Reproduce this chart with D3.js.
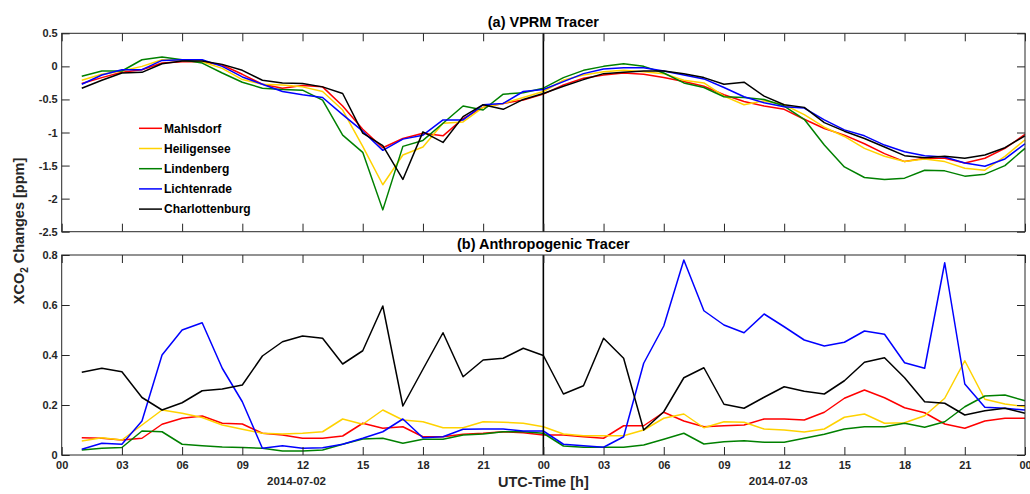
<!DOCTYPE html>
<html>
<head>
  <meta charset="UTF-8">
  <title>XCO2 Changes</title>
  <style>
  body { margin:0; background:#fff; }
  svg text { font-family:"Liberation Sans", Arial, sans-serif; font-weight:bold; }
  </style>
</head>
<body>
  <div id="chart"></div>
  <script src="https://d3js.org/d3.v7.min.js" charset="utf-8"></script>
  <script type="text/javascript">
    // hours since 2014-07-02 00 UTC
    var hours = [1,2,3,4,5,6,7,8,9,10,11,12,13,14,15,16,17,18,19,20,21,22,23,24,
                 25,26,27,28,29,30,31,32,33,34,35,36,37,38,39,40,41,42,43,44,45,46,47,48];
    var xTicks = [0,3,6,9,12,15,18,21,24,27,30,33,36,39,42,45,48];
    var xTickLabels = ["00","03","06","09","12","15","18","21","00","03","06","09","12","15","18","21","00"];
    var dateLabels = ["2014-07-02","2014-07-03"];
    var dateHours = [12,36];

    var stations = ["Mahlsdorf","Heiligensee","Lindenberg","Lichtenrade","Charlottenburg"];
    var colors = ["#ff0000","#ffd200","#008000","#0000ff","#000000"];

    // (a) VPRM tracer
    var vprmTicks = [0.5,0,-0.5,-1,-1.5,-2,-2.5];
    var vprmMahlsdorf = [-0.26,-0.17,-0.09,-0.05,0.05,0.07,0.07,0.02,-0.12,-0.27,-0.33,-0.29,-0.31,-0.6,-0.95,-1.23,-1.09,-1.01,-1.05,-0.79,-0.62,-0.56,-0.51,-0.42,
                         -0.28,-0.18,-0.13,-0.1,-0.12,-0.17,-0.23,-0.3,-0.43,-0.53,-0.6,-0.65,-0.8,-0.94,-1.04,-1.17,-1.32,-1.44,-1.39,-1.39,-1.46,-1.39,-1.24,-1.03];
    var vprmHeiligensee = [-0.21,-0.12,-0.07,0,0.1,0.09,0.07,-0.03,-0.2,-0.27,-0.28,-0.31,-0.38,-0.66,-1.21,-1.79,-1.34,-1.22,-0.86,-0.84,-0.62,-0.56,-0.47,-0.38,
                           -0.21,-0.13,-0.08,-0.06,-0.08,-0.11,-0.21,-0.25,-0.45,-0.58,-0.52,-0.58,-0.73,-0.92,-1.06,-1.24,-1.36,-1.44,-1.4,-1.44,-1.54,-1.57,-1.36,-1.11];
    var vprmLindenberg = [-0.15,-0.07,-0.07,0.1,0.14,0.1,0.05,-0.1,-0.24,-0.33,-0.35,-0.36,-0.51,-1.04,-1.3,-2.17,-1.21,-1.12,-0.86,-0.6,-0.66,-0.42,-0.4,-0.33,
                          -0.17,-0.06,0,0.04,0,-0.1,-0.25,-0.32,-0.46,-0.47,-0.5,-0.6,-0.8,-1.19,-1.52,-1.68,-1.71,-1.69,-1.57,-1.58,-1.66,-1.63,-1.5,-1.24];
    var vprmLichtenrade = [-0.27,-0.13,-0.05,-0.05,0.09,0.1,0.1,0,-0.16,-0.27,-0.38,-0.43,-0.47,-0.73,-0.98,-1.27,-1.1,-1.04,-0.81,-0.81,-0.58,-0.56,-0.38,-0.35,
                           -0.23,-0.11,-0.04,-0.02,-0.02,-0.07,-0.13,-0.19,-0.32,-0.46,-0.55,-0.61,-0.63,-0.81,-0.96,-1.05,-1.19,-1.29,-1.35,-1.37,-1.46,-1.51,-1.4,-1.17];
    var vprmCharlottenburg = [-0.33,-0.21,-0.1,-0.09,0.04,0.08,0.08,0.03,-0.06,-0.21,-0.25,-0.26,-0.31,-0.41,-1.01,-1.2,-1.71,-0.99,-1.15,-0.76,-0.58,-0.65,-0.5,-0.41,
                              -0.3,-0.2,-0.11,-0.09,-0.07,-0.07,-0.11,-0.17,-0.27,-0.24,-0.45,-0.58,-0.62,-0.85,-0.98,-1.09,-1.22,-1.35,-1.38,-1.36,-1.39,-1.34,-1.23,-1.05];

    // (b) anthropogenic tracer
    var anthTicks = [0,0.2,0.4,0.6,0.8];
    var anthMahlsdorf = [0.069,0.067,0.06,0.067,0.123,0.147,0.156,0.127,0.124,0.087,0.08,0.067,0.067,0.076,0.127,0.107,0.113,0.073,0.073,0.083,0.087,0.093,0.089,0.08,
                         0.08,0.073,0.067,0.117,0.117,0.171,0.136,0.113,0.117,0.12,0.144,0.144,0.14,0.171,0.227,0.26,0.229,0.189,0.169,0.124,0.107,0.136,0.147,0.147];
    var anthHeiligensee = [0.056,0.069,0.06,0.12,0.18,0.167,0.15,0.12,0.103,0.087,0.084,0.087,0.093,0.144,0.123,0.18,0.14,0.133,0.109,0.109,0.133,0.131,0.127,0.113,
                           0.084,0.077,0.077,0.077,0.1,0.147,0.164,0.109,0.133,0.131,0.104,0.1,0.092,0.104,0.151,0.164,0.127,0.129,0.157,0.227,0.377,0.223,0.204,0.193];
    var anthLindenberg = [0.02,0.027,0.03,0.096,0.093,0.043,0.037,0.032,0.03,0.027,0.016,0.016,0.02,0.043,0.064,0.067,0.047,0.063,0.063,0.08,0.084,0.093,0.093,0.087,
                          0.036,0.031,0.031,0.031,0.04,0.063,0.087,0.044,0.053,0.057,0.051,0.051,0.067,0.083,0.104,0.113,0.113,0.127,0.111,0.133,0.193,0.236,0.24,0.217];
    var anthLichtenrade = [0.023,0.047,0.043,0.136,0.4,0.5,0.529,0.347,0.213,0.027,0.037,0.027,0.029,0.043,0.067,0.093,0.144,0.069,0.073,0.103,0.104,0.104,0.096,0.096,
                           0.043,0.037,0.031,0.073,0.367,0.516,0.78,0.577,0.52,0.489,0.564,0.513,0.46,0.436,0.451,0.496,0.483,0.369,0.347,0.769,0.284,0.191,0.187,0.18];
    var anthCharlottenburg = [0.331,0.347,0.333,0.23,0.18,0.209,0.257,0.264,0.28,0.396,0.453,0.476,0.467,0.364,0.417,0.596,0.196,0.343,0.489,0.313,0.38,0.387,0.427,0.398,
                              0.244,0.277,0.467,0.387,0.1,0.173,0.309,0.349,0.203,0.187,0.231,0.273,0.255,0.244,0.297,0.371,0.389,0.309,0.213,0.207,0.16,0.177,0.187,0.167];

    var vprmSeries = [vprmMahlsdorf, vprmHeiligensee, vprmLindenberg, vprmLichtenrade, vprmCharlottenburg];
    var anthSeries = [anthMahlsdorf, anthHeiligensee, anthLindenberg, anthLichtenrade, anthCharlottenburg];

    var axisColor = "#262626";

    var svg = d3.select("#chart")
      .append("svg")
      .attr("width", 1030)
      .attr("height", 494);

    var left = 61.7, right = 1025;

    var x = d3.scaleLinear()
      .domain([0, 48])
      .range([left, right]);

    function panel(top, bottom, yDomain, yTicks, series, title, labels) {
      var y = d3.scaleLinear()
        .domain(yDomain)
        .range([bottom, top]);

      var line = d3.line()
        .x(function(d, i) { return x(hours[i]); })
        .y(function(d) { return y(d); });

      series.forEach(function(s, k) {
        svg.append("path")
          .datum(s)
          .attr("fill", "none")
          .attr("stroke", colors[k])
          .attr("stroke-linejoin", "round")
          .attr("stroke-width", 1.5)
          .attr("d", line);
      });

      // day boundary
      svg.append("line")
        .attr("x1", x(24)).attr("x2", x(24))
        .attr("y1", top).attr("y2", bottom)
        .attr("stroke", "#000")
        .attr("stroke-width", 1.6);

      var fmt = function(d) { return String(d); };

      var gB = svg.append("g")
        .attr("transform", "translate(0," + bottom + ")")
        .call(d3.axisBottom(x).tickValues(xTicks).tickSize(-8).tickPadding(6)
          .tickFormat(function(d, i) { return labels ? xTickLabels[i] : ""; }));
      var gT = svg.append("g")
        .attr("transform", "translate(0," + top + ")")
        .call(d3.axisTop(x).tickValues(xTicks).tickSize(-8).tickFormat(""));
      var gL = svg.append("g")
        .attr("transform", "translate(" + left + ",0)")
        .call(d3.axisLeft(y).tickValues(yTicks).tickSize(-8).tickPadding(4).tickFormat(fmt));
      var gR = svg.append("g")
        .attr("transform", "translate(" + right + ",0)")
        .call(d3.axisRight(y).tickValues(yTicks).tickSize(-8).tickFormat(""));

      [gB, gT, gL, gR].forEach(function(g) {
        g.select(".domain").remove();
        g.selectAll(".tick line").attr("stroke", axisColor);
        g.selectAll(".tick text")
          .attr("fill", axisColor)
          .style("font-size", "11px")
          .style("font-family", "'Liberation Sans', Arial, sans-serif")
          .style("font-weight", "bold");
      });

      svg.append("rect")
        .attr("x", left).attr("y", top)
        .attr("width", right - left).attr("height", bottom - top)
        .attr("fill", "none")
        .attr("stroke", axisColor)
        .attr("stroke-width", 1);

      svg.append("text")
        .attr("x", (left + right) / 2)
        .attr("y", top - 6)
        .attr("text-anchor", "middle")
        .style("font-size", "14.5px")
        .attr("fill", "#000")
        .text(title);

      return y;
    }

    panel(33.3, 231.7, [-2.5, 0.5], vprmTicks, vprmSeries, "(a) VPRM Tracer", false);
    panel(255, 455, [0, 0.8], anthTicks, anthSeries, "(b) Anthropogenic Tracer", true);

    // date labels under the noon ticks
    svg.selectAll(".date")
      .data(dateLabels)
      .enter().append("text")
      .attr("class", "date")
      .attr("x", function(d, i) { return x(dateHours[i]) - 6; })
      .attr("y", 485)
      .attr("text-anchor", "middle")
      .attr("fill", axisColor)
      .style("font-size", "11.5px")
      .text(function(d) { return d; });

    svg.append("text")
      .attr("x", (left + right) / 2)
      .attr("y", 487)
      .attr("text-anchor", "middle")
      .attr("fill", axisColor)
      .style("font-size", "14.5px")
      .text("UTC-Time [h]");

    var ylab = svg.append("text")
      .attr("transform", "translate(23.5,231) rotate(-90)")
      .attr("text-anchor", "middle")
      .attr("fill", axisColor)
      .style("font-size", "14.5px");
    ylab.append("tspan").text("XCO");
    ylab.append("tspan").attr("dy", 4).style("font-size", "10px").text("2");
    ylab.append("tspan").attr("dy", -4).text(" Changes [ppm]");

    // legend
    var legend = svg.append("g");
    stations.forEach(function(name, k) {
      var ly = 128.3 + k * 20.2;
      legend.append("line")
        .attr("x1", 139).attr("x2", 162)
        .attr("y1", ly).attr("y2", ly)
        .attr("stroke", colors[k])
        .attr("stroke-width", 1.5);
      legend.append("text")
        .attr("x", 164)
        .attr("y", ly)
        .attr("dy", "0.35em")
        .attr("fill", "#000")
        .style("font-size", "12px")
        .text(name);
    });
  </script>
</body>
</html>
